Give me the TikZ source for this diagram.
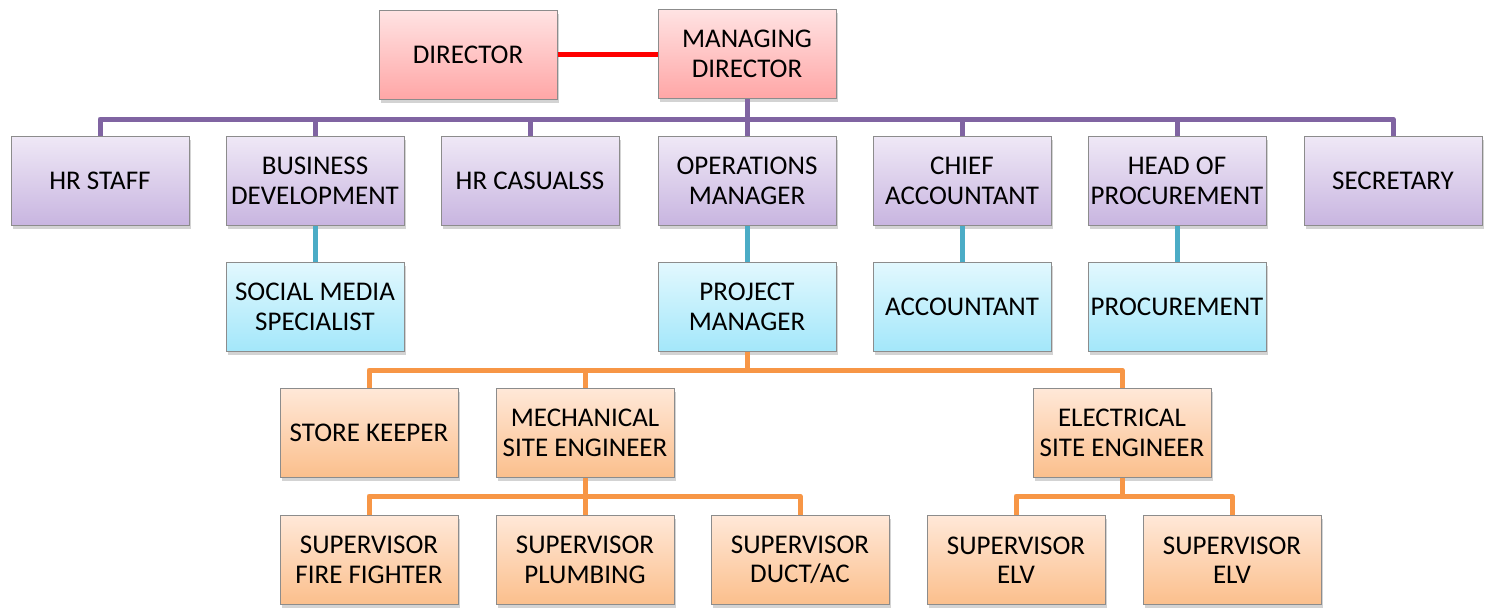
\documentclass[tikz,border=0pt]{standalone}
\usepackage{fontspec}
\setmainfont{Carlito}
\usetikzlibrary{shadows}
\definecolor{redtop}{HTML}{FFE3E3}
\definecolor{redbot}{HTML}{FFA6A6}
\definecolor{purtop}{HTML}{EFE8F6}
\definecolor{purbot}{HTML}{C8B5E0}
\definecolor{blutop}{HTML}{E2F8FE}
\definecolor{blubot}{HTML}{A3E7FA}
\definecolor{orgtop}{HTML}{FFE8D8}
\definecolor{orgbot}{HTML}{FBBF8C}
\definecolor{purline}{HTML}{8064A2}
\definecolor{bluline}{HTML}{4BACC6}
\definecolor{orgline}{HTML}{F79646}
\definecolor{boxedge}{HTML}{8C8C8C}
\tikzset{
  box/.style={draw=boxedge, line width=1pt, minimum width=178pt, minimum height=89pt,
    inner sep=0pt, align=center, font=\fontsize{27}{29.5}\selectfont,
    drop shadow={shadow xshift=2pt, shadow yshift=-3pt, opacity=0.35}},
  redbox/.style={box, top color=redtop, bottom color=redbot},
  purbox/.style={box, top color=purtop, bottom color=purbot},
  blubox/.style={box, top color=blutop, bottom color=blubot},
  orgbox/.style={box, top color=orgtop, bottom color=orgbot},
  conn/.style={line width=5pt, line join=round},
  pline/.style={conn, draw=purline},
  bline/.style={conn, draw=bluline},
  oline/.style={conn, draw=orgline},
  rline/.style={conn, draw=red}
}
\begin{document}
\begin{tikzpicture}[x=1pt,y=-1pt]
\useasboundingbox (0,0) rectangle (1493,608);
\coordinate (pbus) at (0,119);
\coordinate (obus) at (0,370);
\coordinate (mbus) at (0,496);
\node[redbox] (dir) at (468,55) {DIRECTOR};
\node[redbox] (md) at (747,54) {MANAGING\\DIRECTOR};
\node[purbox] (hrs) at (100,181) {HR STAFF};
\node[purbox] (bd) at (315,181) {BUSINESS\\DEVELOPMENT};
\node[purbox] (hrc) at (530,181) {HR CASUALSS};
\node[purbox] (ops) at (747,181) {OPERATIONS\\MANAGER};
\node[purbox] (ca) at (962,181) {CHIEF\\ACCOUNTANT};
\node[purbox] (hp) at (1177,181) {HEAD OF\\PROCUREMENT};
\node[purbox] (sec) at (1393,181) {SECRETARY};
\node[blubox] (sms) at (315,307) {SOCIAL MEDIA\\SPECIALIST};
\node[blubox] (pm) at (747,307) {PROJECT\\MANAGER};
\node[blubox] (acc) at (962,307) {ACCOUNTANT};
\node[blubox] (proc) at (1177,307) {PROCUREMENT};
\node[orgbox] (sk) at (369,433) {STORE KEEPER};
\node[orgbox] (mse) at (585,433) {MECHANICAL\\SITE ENGINEER};
\node[orgbox] (ese) at (1122,433) {ELECTRICAL\\SITE ENGINEER};
\node[orgbox] (sff) at (369,560) {SUPERVISOR\\FIRE FIGHTER};
\node[orgbox] (spl) at (585,560) {SUPERVISOR\\PLUMBING};
\node[orgbox] (sdu) at (800,560) {SUPERVISOR\\DUCT/AC};
\node[orgbox] (se1) at (1016,560) {SUPERVISOR\\ELV};
\node[orgbox] (se2) at (1232,560) {SUPERVISOR\\ELV};
\draw[rline] (dir.east |- md.west) -- (md.west);
\foreach \c in {hrs,bd,hrc,ops,ca,hp,sec}
  \draw[pline] (md.south) -- (md.south |- pbus) -| (\c.north);
\draw[bline] (bd.south) -- (sms.north);
\draw[bline] (ops.south) -- (pm.north);
\draw[bline] (ca.south) -- (acc.north);
\draw[bline] (hp.south) -- (proc.north);
\foreach \c in {sk,mse,ese}
  \draw[oline] (pm.south) -- (pm.south |- obus) -| (\c.north);
\foreach \c in {sff,spl,sdu}
  \draw[oline] (mse.south) -- (mse.south |- mbus) -| (\c.north);
\foreach \c in {se1,se2}
  \draw[oline] (ese.south) -- (ese.south |- mbus) -| (\c.north);
\end{tikzpicture}
\end{document}
